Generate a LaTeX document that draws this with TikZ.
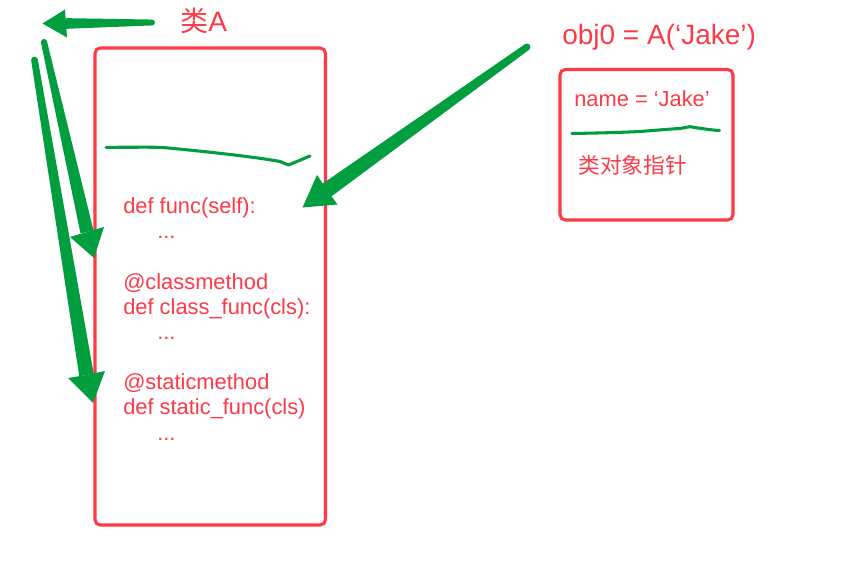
\documentclass[tikz,border=0pt]{standalone}
\usepackage{fontspec}
\setmainfont{Liberation Sans}
\newfontfamily\cjk{Noto Sans CJK SC}
\usetikzlibrary{calc}
\definecolor{myred}{RGB}{252,58,72}
\definecolor{mygreen}{RGB}{0,158,62}
\tikzset{
  redbox/.style={draw=myred, line width=2.3pt, rounded corners=4pt},
  code/.style={text=myred, font=\fontsize{16.4pt}{19pt}\selectfont, anchor=base west, inner sep=0pt},
  title/.style={text=myred, font=\fontsize{21pt}{24pt}\selectfont, anchor=base west, inner sep=0pt},
  scribble/.style={draw=mygreen, line width=2.3pt, line cap=round, line join=round},
  greenfill/.style={fill=mygreen, draw=none}
}
% tapered arrow: #1 tail, #2 shaft end, #3 tip, #4 corner1, #5 corner2, #6 tail half-width, #7 head half-width
\newcommand{\taparrow}[7]{%
  \fill[greenfill] ($(#1)!#6!90:(#2)$) -- ($(#2)!#7!-90:(#1)$) -- ($(#2)!#7!90:(#1)$) -- ($(#1)!#6!-90:(#2)$) -- cycle;
  \fill[greenfill] (#1) circle (#6);
  \fill[greenfill] (#3) -- (#4) -- (#2) -- (#5) -- cycle;
}
\begin{document}
\begin{tikzpicture}[x=0.75pt,y=-0.75pt]
\useasboundingbox (0,0) rectangle (865,584);
\fill[white] (0,0) rectangle (865,584);

% class box
\draw[redbox] (95,48) rectangle (325.5,525);
\node[title] (clsA) at (180,32) {{\cjk 类}A};
\draw[scribble] (106,147.3) .. controls (140,147.3) and (150,147) .. (163,147.5)
  .. controls (190,150) and (250,156) .. (280,161.5) -- (288.5,165) -- (310,156);

\node[code] (l1) at (123,214) {def func(self):};
\node[code] (l2) at (157,238.5) {...};
\node[code] (l3) at (123,289.5) {@classmethod};
\node[code] (l4) at (123,314.5) {def class\_func(cls):};
\node[code] (l5) at (157,339.5) {...};
\node[code] (l6) at (123,389.5) {@staticmethod};
\node[code] (l7) at (123,414.5) {def static\_func(cls)};
\node[code] (l8) at (157,440.5) {...};

% object box
\node[title] (obj) at (562,45) {obj0 = A(‘Jake’)};
\draw[redbox] (560,69.5) rectangle (733,220);
\node[code] (nm) at (574,106.5) {name = ‘Jake’};
\draw[scribble] (572,133.5) .. controls (600,133) and (620,132.5) .. (640,131.5)
  .. controls (660,130) and (670,129) .. (680,128.5) -- (690,126.7) .. controls (698,128) and (710,130) .. (719.5,130.5);
\node[text=myred, font=\cjk\fontsize{16.3pt}{19pt}\selectfont, anchor=west, inner sep=0pt] (ptr) at (578,165) {类对象指针};

% arrows
\coordinate (t1) at (152,22.5); \coordinate (b1) at (66,23.5); \coordinate (p1) at (42.5,23.5);
\coordinate (c1a) at (65,9.5); \coordinate (c1b) at (67,37.5);
\taparrow{t1}{b1}{p1}{c1a}{c1b}{2.2pt}{4pt}

\coordinate (t2) at (44,42); \coordinate (b2) at (87,232); \coordinate (p2) at (94,258);
\coordinate (c2a) at (70,237); \coordinate (c2b) at (104,227);
\taparrow{t2}{b2}{p2}{c2a}{c2b}{2.3pt}{5pt}

\coordinate (t3) at (34.5,60); \coordinate (b3) at (86.5,375); \coordinate (p3) at (93,403);
\coordinate (c3a) at (68,378); \coordinate (c3b) at (105,371);
\taparrow{t3}{b3}{p3}{c3a}{c3b}{2.5pt}{5.5pt}

\coordinate (t4) at (527,47); \coordinate (b4) at (327,190); \coordinate (p4) at (302.5,207.5);
\coordinate (c4a) at (317,175); \coordinate (c4b) at (337.5,204.5);
\taparrow{t4}{b4}{p4}{c4a}{c4b}{2.6pt}{5.8pt}
\end{tikzpicture}
\end{document}
